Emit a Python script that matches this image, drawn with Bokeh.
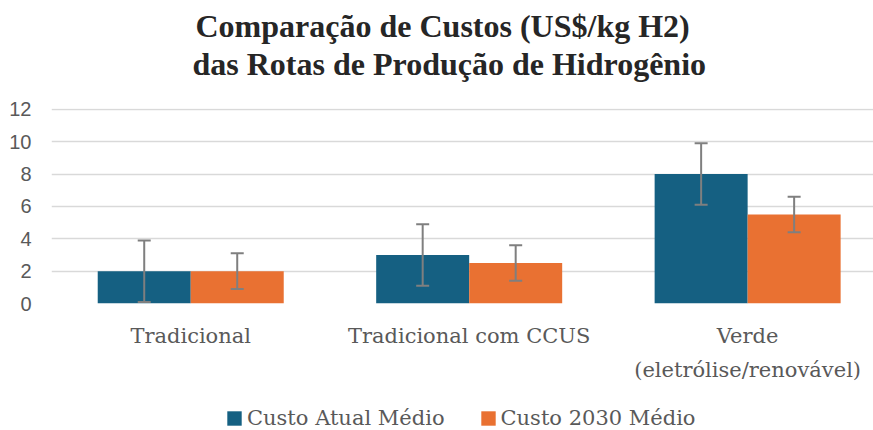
from bokeh.plotting import figure
from bokeh.models import (Range1d, FixedTicker, Whisker, ColumnDataSource, Legend,
                          LegendItem, Title, TeeHead)
from bokeh.layouts import column
from bokeh.transform import dodge
from bokeh.embed import file_html
from bokeh.resources import INLINE

# ---- data ----
categories = ["Tradicional", "Tradicional com CCUS", "Verde\n(eletrólise/renovável)"]
series_names = ["Custo Atual Médio", "Custo 2030 Médio"]
custo_atual = [2.0, 3.0, 8.0]
custo_2030 = [2.0, 2.5, 5.5]
erro_atual = [1.9, 1.9, 1.9]
erro_2030 = [1.1, 1.1, 1.1]
y_ticks = [0, 2, 4, 6, 8, 10, 12]

BLUE = "#156082"
ORANGE = "#E97132"
GRID = "#D9D9D9"
TEXT = "#595959"
ERR = "#7F7F7F"

xs = list(range(len(categories)))
source = ColumnDataSource(dict(
    x=xs,
    atual=custo_atual,
    a2030=custo_2030,
    atual_up=[v + e for v, e in zip(custo_atual, erro_atual)],
    atual_lo=[v - e for v, e in zip(custo_atual, erro_atual)],
    a2030_up=[v + e for v, e in zip(custo_2030, erro_2030)],
    a2030_lo=[v - e for v, e in zip(custo_2030, erro_2030)],
))

p = figure(width=873, height=395, output_backend="svg", toolbar_location=None,
           title=None, x_range=Range1d(-0.5, 2.452), y_range=Range1d(0, 12.05),
           min_border_left=51, min_border_right=0, min_border_top=108, min_border_bottom=92)
p.outline_line_color = None
p.background_fill_color = "white"
p.border_fill_color = "white"

off = 0.167
bw = 0.334
r1 = p.vbar(x=dodge("x", -off, range=p.x_range), top="atual", width=bw, source=source,
            fill_color=BLUE, line_color=None)
r2 = p.vbar(x=dodge("x", off, range=p.x_range), top="a2030", width=bw, source=source,
            fill_color=ORANGE, line_color=None)

for xo, up, lo in [(-off, "atual_up", "atual_lo"), (off, "a2030_up", "a2030_lo")]:
    w = Whisker(base=dodge("x", xo, range=p.x_range), upper=up, lower=lo, source=source,
                line_color=ERR, line_width=2, level="annotation",
                upper_head=TeeHead(size=13, line_color=ERR, line_width=2),
                lower_head=TeeHead(size=13, line_color=ERR, line_width=2))
    p.add_layout(w)

# axes
p.xaxis.ticker = FixedTicker(ticks=xs)
p.xaxis.major_label_overrides = {i: c for i, c in zip(xs, categories)}
p.xaxis.major_label_text_font = "DejaVu Serif"
p.xaxis.major_label_text_font_size = "21px"
p.xaxis.major_label_text_color = TEXT
p.xaxis.major_label_text_line_height = 1.45
p.xaxis.major_label_standoff = 14
p.xaxis.axis_line_color = None
p.xaxis.major_tick_line_color = None
p.xaxis.minor_tick_line_color = None

p.yaxis.ticker = FixedTicker(ticks=y_ticks)
p.yaxis.major_label_text_font = "Liberation Sans"
p.yaxis.major_label_text_font_size = "20px"
p.yaxis.major_label_text_color = TEXT
p.yaxis.major_label_standoff = 14
p.yaxis.axis_line_color = None
p.yaxis.major_tick_line_color = None
p.yaxis.minor_tick_line_color = None

p.xgrid.grid_line_color = None
p.ygrid.grid_line_color = GRID
p.ygrid.grid_line_width = 1.5

# titles (spacer first, closest to the frame)
spacer = Title(text=" ", text_font_size="10px", standoff=14)
t2 = Title(text="das Rotas de Produção de Hidrogênio", align="left", offset=141,
           text_font="Liberation Serif", text_font_style="bold", text_font_size="32px",
           text_color="#262626", standoff=0)
t1 = Title(text="Comparação de Custos (US$/kg H2)", align="left", offset=144,
           text_font="Liberation Serif", text_font_style="bold", text_font_size="32px",
           text_color="#262626", standoff=0)
p.add_layout(spacer, "above")
p.add_layout(t2, "above")
p.add_layout(t1, "above")

# legend strip (separate figure below; swatches from hidden renderers of same style)
pl = figure(width=873, height=35, output_backend="svg", toolbar_location=None,
            title=None, min_border=0, x_axis_location=None, y_axis_location=None,
            x_range=Range1d(0, 1), y_range=Range1d(0, 1))
pl.outline_line_color = None
pl.grid.visible = False
l1 = pl.vbar(x="x", top="atual", width=bw, source=source, fill_color=BLUE,
             line_color=None, visible=False)
l2 = pl.vbar(x="x", top="a2030", width=bw, source=source, fill_color=ORANGE,
             line_color=None, visible=False)
legend = Legend(items=[LegendItem(label=series_names[0], renderers=[l1]),
                       LegendItem(label=series_names[1], renderers=[l2])],
                orientation="horizontal", location=(174, 0),
                label_text_font="DejaVu Serif", label_text_font_size="21px",
                label_text_color=TEXT, glyph_width=18, glyph_height=18,
                label_standoff=4, spacing=34, padding=0, margin=0,
                inactive_fill_alpha=0,
                border_line_color=None, background_fill_alpha=0)
pl.add_layout(legend, "center")

layout = column(p, pl, spacing=0)
open("out.html", "w").write(file_html(layout, INLINE))
